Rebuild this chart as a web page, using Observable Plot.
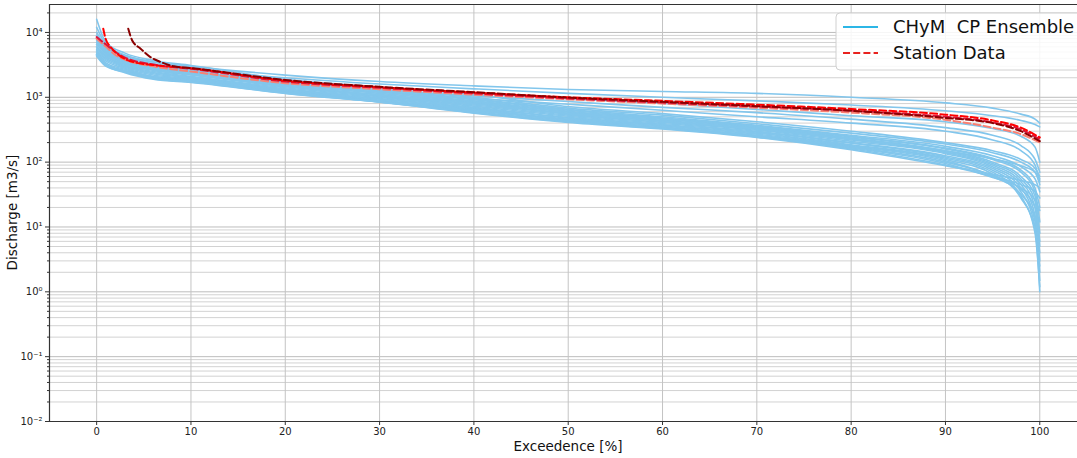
<!DOCTYPE html>
<html>
<head>
<meta charset="utf-8">
<script src="https://cdn.jsdelivr.net/npm/d3@7"></script>
<script src="https://cdn.jsdelivr.net/npm/@observablehq/plot@0.6"></script>
<style>
  html, body { margin: 0; padding: 0; background: #fff; overflow: hidden; }
  #chart svg { display: block; font-family: "DejaVu Sans", sans-serif; }
</style>
</head>
<body>
<div id="chart"></div>
<script>
// ---------- data ----------
const ensX = [0, 1, 3, 6, 10, 20, 30, 40, 50, 60, 70, 80, 90, 95, 98, 99.5, 100];

const ens01 = [9000, 6200, 4400, 3500, 3000, 2200, 1750, 1500, 1320, 1230, 1150, 1000, 820, 680, 550, 460, 400];
const ens02 = [8000, 5600, 4000, 3200, 2700, 2000, 1600, 1350, 1150, 1000, 880, 760, 620, 520, 440, 380, 350];
const ens03 = [7500, 5200, 3800, 3000, 2500, 1800, 1400, 1150, 950, 800, 650, 520, 420, 330, 250, 170, 100];
const ens04 = [7000, 5000, 3600, 2900, 2400, 1700, 1300, 1050, 860, 700, 580, 460, 340, 260, 180, 110, 70];
const ens05 = [6500, 4700, 3400, 2700, 2300, 1600, 1200, 960, 780, 630, 500, 400, 300, 220, 150, 90, 50];
const ens06 = [16000, 7000, 4800, 3700, 3100, 1900, 1450, 1100, 720, 560, 420, 300, 200, 150, 110, 80, 60];
const ens07 = [12000, 6500, 4500, 3500, 2900, 1800, 1350, 1000, 680, 530, 390, 280, 190, 140, 100, 70, 45];
const ens08 = [10000, 6000, 4300, 3300, 2800, 1750, 1300, 950, 650, 500, 370, 260, 175, 125, 85, 55, 35];
const ens09 = [9000, 5500, 4000, 3100, 2600, 1650, 1250, 920, 630, 480, 360, 250, 165, 115, 75, 40, 20];
const ens10 = [8000, 5200, 3800, 3000, 2500, 1600, 1200, 880, 610, 470, 350, 245, 160, 110, 70, 35, 12];
const ens11 = [7000, 4900, 3600, 2800, 2400, 1550, 1150, 850, 590, 455, 340, 235, 150, 100, 60, 30, 8];
const ens12 = [6500, 4600, 3400, 2700, 2300, 1500, 1100, 820, 570, 440, 330, 230, 145, 95, 55, 25, 5];
const ens13 = [6000, 4400, 3200, 2600, 2200, 1450, 1050, 790, 550, 425, 320, 220, 140, 90, 50, 20, 3];
const ens14 = [5500, 4200, 3100, 2500, 2100, 1400, 1020, 760, 530, 410, 310, 210, 135, 85, 45, 15, 2];
const ens15 = [5200, 4000, 3000, 2400, 2050, 1350, 990, 730, 510, 395, 300, 200, 125, 80, 40, 12, 1.5];
const ens16 = [5000, 3800, 2900, 2300, 2000, 1300, 960, 700, 490, 380, 290, 195, 120, 75, 35, 10, 1];
const ens17 = [4800, 3600, 2800, 2200, 1950, 1280, 930, 680, 475, 370, 280, 185, 115, 70, 30, 8, 1.2];
const ens18 = [4600, 3400, 2700, 2100, 1900, 1250, 900, 660, 460, 360, 270, 180, 110, 65, 28, 9, 2.5];
const ens19 = [4500, 3200, 2600, 2050, 1850, 1220, 880, 640, 450, 350, 260, 175, 105, 60, 32, 14, 4];
const ens20 = [4400, 3100, 2500, 2000, 1800, 1200, 860, 620, 440, 340, 255, 170, 100, 62, 38, 20, 6];
const ens21 = [4300, 3000, 2450, 1950, 1750, 1180, 850, 600, 430, 335, 250, 165, 95, 58, 40, 26, 18];
const ens22 = [4500, 3100, 2400, 1900, 1700, 1150, 840, 580, 420, 330, 245, 160, 90, 60, 45, 35, 28];
const ens23 = [4600, 3200, 2500, 1950, 1720, 1160, 845, 570, 410, 325, 240, 155, 88, 65, 52, 45, 40];
const ens24 = [5800, 4300, 3300, 2650, 2250, 1480, 1080, 800, 560, 430, 325, 228, 150, 112, 88, 70, 55];

const ensembleSeries = [ens01, ens02, ens03, ens04, ens05, ens06, ens07, ens08, ens09, ens10, ens11, ens12,
  ens13, ens14, ens15, ens16, ens17, ens18, ens19, ens20, ens21, ens22, ens23, ens24];

const redX      = [0.7, 0.95, 1.5, 2.4, 3.9, 6, 10, 20, 30, 40, 50, 60, 70, 80, 90, 95, 98, 100];
const redQ      = [11400, 8000, 5950, 4430, 3490, 3150, 2800, 1800, 1430, 1180, 1000, 880, 770, 660, 540, 440, 340, 240];
const darkRedX  = [3.35, 3.77, 4.66, 5.7, 6.8, 8.2, 10, 20, 30, 40, 50, 60, 70, 80, 90, 95, 98, 100];
const darkRedQ  = [11400, 7530, 5610, 4170, 3490, 3000, 2820, 1850, 1450, 1200, 990, 850, 730, 620, 480, 400, 300, 210];
const crimsonX  = [0, 1, 2, 3, 6, 10, 20, 30, 40, 50, 60, 70, 80, 90, 95, 98, 100];
const crimsonQ  = [8500, 6500, 5000, 4100, 3200, 2750, 1750, 1400, 1150, 960, 830, 720, 620, 500, 410, 320, 225];
const salmonX   = [0, 1, 2, 3, 6, 10, 20, 30, 40, 50, 60, 70, 80, 90, 95, 98, 100];
const salmonQ   = [8000, 6000, 4500, 3800, 3000, 2500, 1650, 1330, 1100, 930, 800, 690, 580, 450, 340, 270, 200];

const stationNames  = ["salmon", "crimson", "red", "darkred"];
const stationColors = ["#f2897a", "#d8312a", "#f01c1c", "#8b0000"];

const xTicks = [0, 10, 20, 30, 40, 50, 60, 70, 80, 90, 100];
const yMajor = [1e-2, 1e-1, 1e0, 1e1, 1e2, 1e3, 1e4];
const yMajorLabels = ["10⁻²", "10⁻¹", "10⁰", "10¹", "10²", "10³", "10⁴"];
const legendLabels = ["CHyM  CP Ensemble", "Station Data"];
const xLabel = "Exceedence [%]";
const yLabel = "Discharge [m3/s]";

// ---------- build tables ----------
const ensRows = [];
ensembleSeries.forEach((vals, i) => vals.forEach((v, j) => ensRows.push({member: i, x: ensX[j], q: v})));

const stationPairs = [[salmonX, salmonQ], [crimsonX, crimsonQ], [redX, redQ], [darkRedX, darkRedQ]];
const stRows = [];
stationPairs.forEach(([xs, qs], i) => xs.forEach((x, j) => stRows.push({st: stationNames[i], x, q: qs[j]})));

const yMinor = [];
for (let e = -2; e <= 4; e++) for (let m = 2; m <= 9; m++) { const v = m * Math.pow(10, e); if (v < 26970) yMinor.push(v); }

const yTop = 26970;
const W = 1077, H = 458, ML = 49, MR = 0, MT = 4, MB = 37;

const chart = Plot.plot({
  width: W,
  height: H,
  marginLeft: ML,
  marginRight: MR,
  marginTop: MT,
  marginBottom: MB,
  style: {fontFamily: "DejaVu Sans, sans-serif", fontSize: "10px", color: "#222", overflow: "visible"},
  x: {domain: [-5, 104]},
  y: {type: "log", domain: [0.01, yTop]},
  color: {domain: stationNames, range: stationColors},
  marks: [
    Plot.ruleY(yMinor, {stroke: "#d2d2d2", strokeWidth: 1}),
    Plot.ruleY(yMajor, {stroke: "#bdbdbd", strokeWidth: 1}),
    Plot.ruleX(xTicks, {stroke: "#c4c4c4", strokeWidth: 1}),
    Plot.line(ensRows, {x: "x", y: "q", z: "member", stroke: "#82c6ec", strokeWidth: 1.6, curve: "monotone-x"}),
    Plot.line(stRows, {x: "x", y: "q", z: "st", stroke: "st", strokeWidth: 2, strokeDasharray: "7,3.2", curve: "monotone-x"}),
    Plot.ruleX([-5], {stroke: "#333", strokeWidth: 1.2}),
    Plot.ruleY([0.01], {stroke: "#333", strokeWidth: 1.2}),
    Plot.ruleY([yTop], {stroke: "#333", strokeWidth: 1.2}),
    Plot.axisX(xTicks, {tickSize: 4, tickPadding: 2, label: null, fontSize: 10, stroke: "#333"}),
    Plot.axisY(yMajor, {tickSize: 4, tickPadding: 3, label: null, fontSize: 10,
      tickFormat: (d) => yMajorLabels[yMajor.indexOf(d)], stroke: "#333"}),
    Plot.axisY(yMinor, {tickSize: 2, label: null, text: null, stroke: "#333"})
  ]
});

document.getElementById("chart").appendChild(chart);

const svg = d3.select(chart);

// ---------- axis titles ----------
const plotCenterX = ML + (W - ML - MR) * (5 + 50) / 109;   // centre of x = 50 region (matches reference)
svg.append("text").attr("x", 568).attr("y", 446).attr("dy", "0.35em")
  .attr("text-anchor", "middle").attr("font-size", 13.5).attr("fill", "#111")
  .attr("font-family", "DejaVu Sans, sans-serif").text(xLabel);
svg.append("text").attr("transform", `translate(12,${(MT + H - MB) / 2}) rotate(-90)`).attr("dy", "0.35em")
  .attr("text-anchor", "middle").attr("font-size", 13.5).attr("fill", "#111")
  .attr("font-family", "DejaVu Sans, sans-serif").text(yLabel);

// ---------- legend (inside plot, top-right) ----------
const lg = svg.append("g").attr("class", "legend").attr("text-anchor", "start");
lg.append("rect").attr("x", 836).attr("y", 13).attr("width", 260).attr("height", 57).attr("rx", 4)
  .attr("fill", "#fff").attr("fill-opacity", 0.85).attr("stroke", "#d0d0d0");
lg.append("line").attr("x1", 843).attr("x2", 878).attr("y1", 27).attr("y2", 27)
  .attr("stroke", "#2cb6e6").attr("stroke-width", 2);
lg.append("line").attr("x1", 843).attr("x2", 878).attr("y1", 53).attr("y2", 53)
  .attr("stroke", "#e8221e").attr("stroke-width", 2).attr("stroke-dasharray", "7,3.2");
legendLabels.forEach((t, i) => {
  lg.append("text").attr("x", 893).attr("y", i === 0 ? 27 : 53).attr("dy", "0.35em")
    .attr("text-anchor", "start")
    .attr("font-size", 18).attr("fill", "#111").style("white-space", "pre")
    .attr("font-family", "DejaVu Sans, sans-serif").text(t);
});
</script>
</body>
</html>
